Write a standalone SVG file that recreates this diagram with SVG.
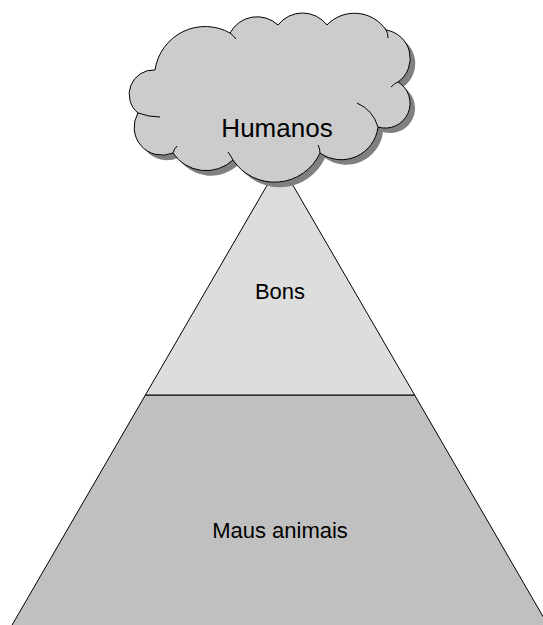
<svg xmlns="http://www.w3.org/2000/svg" width="543" height="625" viewBox="0 0 543 625">
<style>
.lbl{font-family:"Liberation Sans",Arial,sans-serif;fill:#000;text-anchor:middle}
.edge{stroke:#000;stroke-width:1}
</style>
<defs>
<path id="cloudShape" d="M155,70 A50.7,50.7 0 0 1 230,33 A30.7,30.7 0 0 1 278,25 A31,31 0 0 1 327,25 A38,38 0 0 1 386,30 A28.8,28.8 0 0 1 398,82 A24.8,24.8 0 0 1 378,127 A37,37 0 0 1 320,153 A50,50 0 0 1 233,160 A39.6,39.6 0 0 1 173,153 A28,28 0 0 1 138,113 A24.3,24.3 0 0 1 155,70 Z"/>
</defs>
<rect width="543" height="625" fill="#fff"/>
<g id="bottom-level">
<polygon points="145.4,395 414.6,395 548.5,626 11.5,626" fill="#c0c0c0" class="edge"/>
<text class="lbl" x="280" y="538" font-size="22">Maus animais</text>
</g>
<g id="top-level">
<polygon points="280,163 414.6,395 145.4,395" fill="#dddddd" class="edge"/>
<text class="lbl" x="280" y="299" font-size="22">Bons</text>
</g>
<g id="cloud">
<use href="#cloudShape" transform="translate(5,5)" fill="#808080" stroke="none"/>
<use href="#cloudShape" fill="#cccccc" stroke="#000" stroke-width="1"/>
<g fill="none" stroke="#000" stroke-width="1">
<path d="M230,33 Q233,35 236,39"/>
<path d="M386,30 Q388,33 388,38"/>
<path d="M398,82 Q395,83 391,87"/>
<path d="M378,127 Q373,110 357,103"/>
<path d="M320,153 Q320,149 318,145"/>
<path d="M233,160 Q231,156 228,152"/>
<path d="M173,153 Q174,149 177,146"/>
<path d="M138,113 Q149,117 160,117"/>
</g>
<text class="lbl" x="277" y="137" font-size="26">Humanos</text>
</g>
</svg>
